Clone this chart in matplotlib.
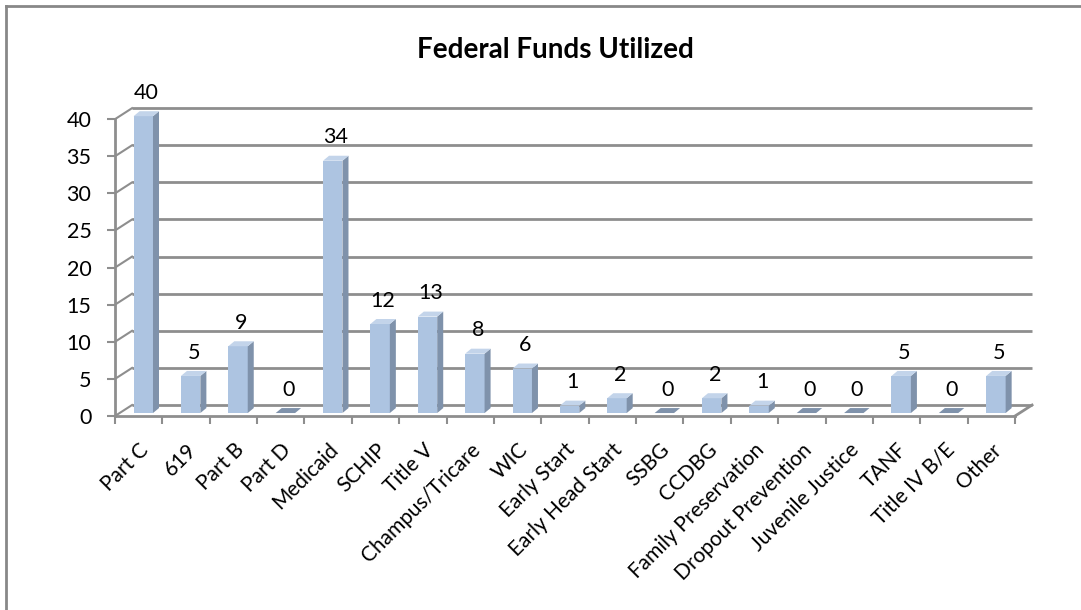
import numpy as np
import matplotlib
matplotlib.use("Agg")
import matplotlib.pyplot as plt
from matplotlib.patches import Polygon
from matplotlib.lines import Line2D

plt.rcParams['font.family'] = ['Lato', 'DejaVu Sans']

# Data
categories = ["Part C", "619", "Part B", "Part D", "Medicaid", "SCHIP", "Title V",
              "Champus/Tricare", "WIC", "Early Start", "Early Head Start", "SSBG",
              "CCDBG", "Family Preservation", "Dropout Prevention", "Juvenile Justice",
              "TANF", "Title IV B/E", "Other"]
values = [40, 5, 9, 0, 34, 12, 13, 8, 6, 1, 2, 0, 2, 1, 0, 0, 5, 0, 5]
yticks = [0, 5, 10, 15, 20, 25, 30, 35, 40]
title = "Federal Funds Utilized"

# 3D look (offsets in data units)
wall_dx, wall_dy = 0.36, 1.48     # depth of back wall
bar_fx, bar_fy = 0.097, 0.40      # bar front face position inside depth
bar_dx, bar_dy = 0.127, 0.67      # bar depth
bar_w = 0.41

front_col = "#adc4e1"
side_col = "#7f92ab"
top_col = "#c3d4ea"
grid_col = "#8e8e8e"

W, H = 1081, 610
fig = plt.figure(figsize=(W / 100, H / 100), dpi=100)
ax = fig.add_axes([115 / W, (H - 416) / H, 923.7 / W, 315.4 / H])
n = len(categories)
x = np.arange(n)
ax.set_xlim(-0.5, 19.0)
ax.set_ylim(0, 42.5)
ax.patch.set_visible(False)

# back wall gridlines and left wall diagonals
for v in yticks:
    ax.plot([-0.5 + wall_dx, n - 0.5 + wall_dx], [v + wall_dy, v + wall_dy],
            color=grid_col, lw=2, zorder=1, solid_capstyle="butt")
    ax.plot([-0.5, -0.5 + wall_dx], [v, v + wall_dy], color=grid_col, lw=1.5, zorder=1)
# floor right edge
ax.plot([n - 0.5, n - 0.5 + wall_dx], [0, wall_dy], color=grid_col, lw=2, zorder=1,
        clip_on=False)

# bars
ax.bar(x + bar_fx, values, width=bar_w, bottom=bar_fy, color=front_col,
       edgecolor="none", zorder=3)
for xi, v in zip(x, values):
    xr = xi + bar_fx + bar_w / 2
    xl = xi + bar_fx - bar_w / 2
    top = bar_fy + v
    side = Polygon([(xr, bar_fy), (xr + bar_dx, bar_fy + bar_dy),
                    (xr + bar_dx, top + bar_dy), (xr, top)],
                   closed=True, facecolor=side_col, edgecolor="none", zorder=3)
    cap = Polygon([(xl, top), (xr, top), (xr + bar_dx, top + bar_dy),
                   (xl + bar_dx, top + bar_dy)],
                  closed=True, facecolor=top_col if v > 0 else side_col,
                  edgecolor="none", zorder=4)
    ax.add_patch(side)
    ax.add_patch(cap)
    ax.annotate(str(v), (xi + bar_fx + bar_dx / 2, top + bar_dy),
                xytext=(0, 6), textcoords="offset points", ha="center", va="bottom",
                fontsize=15.5, color="black", zorder=5, annotation_clip=False)

# axes
for s in ["top", "right"]:
    ax.spines[s].set_visible(False)
ax.spines["left"].set_bounds(0, 40)
ax.spines["bottom"].set_bounds(-0.5, n - 0.5)
for s in ["left", "bottom"]:
    ax.spines[s].set_color(grid_col)
    ax.spines[s].set_linewidth(2)
ax.set_yticks(yticks)
ax.tick_params(axis="y", length=6, width=1.5, color=grid_col, labelsize=15.5, pad=11)
ax.set_xticks(np.arange(-0.5, n, 1.0), minor=True)
ax.set_xticks(x)
ax.set_xticklabels(categories, rotation=45, ha="right", rotation_mode="anchor",
                   fontsize=15)
ax.tick_params(axis="x", which="major", length=0, pad=17)
ax.tick_params(axis="x", which="minor", length=6, width=1.5, color=grid_col)

# title and chart border
fig.text(0.514, 1 - 58 / H, title, ha="center", va="baseline",
         fontsize=20, fontweight="bold")
fig.add_artist(Line2D([6 / W, 6 / W], [0, 1 - 6 / H], color="#888888", lw=2))
fig.add_artist(Line2D([6 / W, 1], [1 - 6 / H, 1 - 6 / H], color="#888888", lw=2))

fig.savefig("out.png", dpi=100)
